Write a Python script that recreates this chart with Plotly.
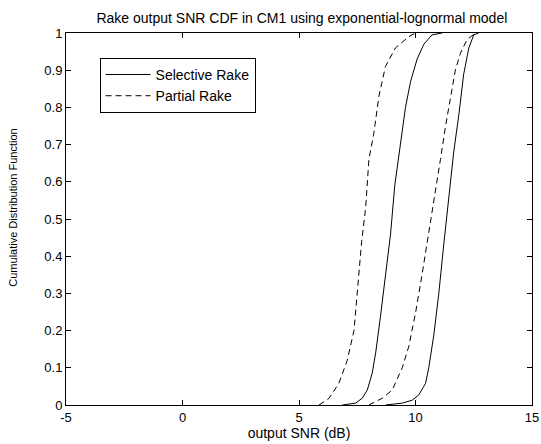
import plotly.graph_objects as go

# Selective Rake (two curves)
sel1_x = [6.86, 7.43, 7.71, 7.93, 8.14, 8.29, 8.5, 8.71, 8.93, 9.11, 9.36, 9.57, 9.79, 10.07, 10.36, 10.71, 11.14]
sel1_y = [0.0, 0.005, 0.018, 0.04, 0.085, 0.14, 0.24, 0.35, 0.46, 0.59, 0.71, 0.80, 0.87, 0.93, 0.97, 0.995, 1.0]
sel2_x = [8.71, 9.43, 9.86, 10.14, 10.43, 10.57, 10.79, 11.0, 11.21, 11.43, 11.64, 11.86, 12.07, 12.29, 12.5, 12.71]
sel2_y = [0.0, 0.005, 0.013, 0.027, 0.058, 0.10, 0.19, 0.30, 0.43, 0.55, 0.68, 0.78, 0.89, 0.96, 0.995, 1.0]

# Partial Rake (two curves)
par1_x = [5.86, 6.29, 6.71, 7.07, 7.36, 7.5, 7.69, 7.86, 8.0, 8.21, 8.43, 8.71, 9.14, 9.71, 10.0]
par1_y = [0.0, 0.018, 0.058, 0.12, 0.20, 0.30, 0.44, 0.53, 0.66, 0.73, 0.83, 0.91, 0.96, 0.99, 1.0]
par2_x = [8.0, 8.57, 9.0, 9.43, 9.71, 10.0, 10.29, 10.57, 10.86, 11.07, 11.29, 11.5, 11.71, 11.93, 12.21, 12.57]
par2_y = [0.0, 0.018, 0.04, 0.10, 0.157, 0.247, 0.354, 0.46, 0.578, 0.66, 0.75, 0.83, 0.90, 0.946, 0.982, 1.0]

x_ticks = [-5, 0, 5, 10, 15]
y_ticks = [0, 0.1, 0.2, 0.3, 0.4, 0.5, 0.6, 0.7, 0.8, 0.9, 1]

fam = "Liberation Sans, Arial, sans-serif"
font = dict(family=fam, size=14, color="black")
tickfont = dict(family=fam, size=13, color="black")
ylabfont = dict(family=fam, size=11, color="black")

fig = go.Figure()
fig.add_trace(go.Scatter(x=sel1_x, y=sel1_y, mode="lines", name="Selective Rake",
                         legendgroup="sel", line=dict(color="black", width=1)))
fig.add_trace(go.Scatter(x=sel2_x, y=sel2_y, mode="lines", name="Selective Rake",
                         legendgroup="sel", showlegend=False, line=dict(color="black", width=1)))
fig.add_trace(go.Scatter(x=par1_x, y=par1_y, mode="lines", name="Partial Rake",
                         legendgroup="par", line=dict(color="black", width=1, dash="6px,4px")))
fig.add_trace(go.Scatter(x=par2_x, y=par2_y, mode="lines", name="Partial Rake",
                         legendgroup="par", showlegend=False, line=dict(color="black", width=1, dash="6px,4px")))

axis_common = dict(showgrid=False, zeroline=False, showline=True, linecolor="black", linewidth=1,
                   mirror="ticks", ticks="inside", ticklen=5, tickcolor="black", tickfont=tickfont,
                   ticklabeloverflow="allow")

fig.update_layout(
    width=541, height=444,
    margin=dict(l=66, r=2, t=33, b=39),
    paper_bgcolor="white", plot_bgcolor="white",
    font=font,
    title=dict(text="Rake output SNR CDF in CM1 using exponential-lognormal model",
               x=0.558, xanchor="center", y=0.96, yanchor="middle", font=font),
    xaxis=dict(range=[-5, 15], tickvals=x_ticks, ticktext=[str(v) for v in x_ticks],
               title=dict(text="output SNR (dB)", font=font, standoff=0), **axis_common),
    yaxis=dict(range=[0, 1], tickvals=y_ticks, ticktext=[("%g" % v) for v in y_ticks],
               **axis_common),
    legend=dict(x=0.072, y=0.933, xanchor="left", yanchor="top", bgcolor="white",
                bordercolor="black", borderwidth=1, font=font, tracegroupgap=0,
                itemwidth=45),
    showlegend=True,
)

fig.add_annotation(text="Cumulative Distribution Function", xref="paper", yref="paper",
                   x=-0.114, y=0.53, textangle=-90, showarrow=False, font=ylabfont,
                   xanchor="center", yanchor="middle")

fig.write_html("out.html")
